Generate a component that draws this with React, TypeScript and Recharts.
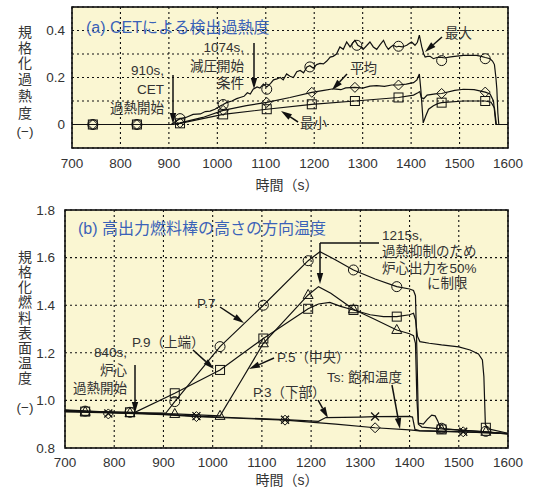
import React from 'react';
import { ComposedChart, Line, Scatter, XAxis, YAxis, CartesianGrid } from 'recharts';

// shared time axis (s)
const timeTicks = [700, 800, 900, 1000, 1100, 1200, 1300, 1400, 1500, 1600];
const topTicks = [-0.1, 0, 0.1, 0.2, 0.3, 0.4, 0.5];
const topLabels = [0, 0.2, 0.4];
const bottomTicks = [0.8, 1.0, 1.2, 1.4, 1.6, 1.8];

// (a) CET superheat, [time, value]
const cetMax: [number, number][] = [
  [700, 0], [905, 0], [915, 0.015], [923, 0.025], [935, 0.03], [950, 0.043], [965, 0.045], [975, 0.055],
  [985, 0.057], [995, 0.065], [1006, 0.079], [1012, 0.085], [1019, 0.093], [1030, 0.1], [1040, 0.11],
  [1047, 0.115], [1055, 0.12], [1062, 0.135], [1068, 0.13], [1074, 0.15], [1082, 0.16], [1088, 0.155],
  [1095, 0.172], [1102, 0.16], [1110, 0.175], [1116, 0.19], [1123, 0.194], [1130, 0.2], [1136, 0.19],
  [1143, 0.215], [1150, 0.205], [1157, 0.2], [1164, 0.225], [1171, 0.23], [1178, 0.22], [1185, 0.245],
  [1191, 0.25], [1198, 0.24], [1205, 0.255], [1212, 0.26], [1219, 0.258], [1226, 0.27], [1233, 0.287],
  [1239, 0.29], [1246, 0.3], [1253, 0.33], [1260, 0.32], [1267, 0.351], [1274, 0.33], [1279, 0.345],
  [1284, 0.358], [1290, 0.337], [1296, 0.33], [1301, 0.32], [1308, 0.335], [1315, 0.351], [1322, 0.33],
  [1329, 0.32], [1336, 0.34], [1343, 0.358], [1348, 0.335], [1353, 0.32], [1358, 0.33], [1363, 0.337],
  [1370, 0.33], [1374, 0.333], [1382, 0.33], [1391, 0.337], [1396, 0.345], [1401, 0.351], [1408, 0.337],
  [1413, 0.35], [1417, 0.38], [1420, 0.35], [1422, 0.33], [1426, 0.3], [1429, 0.287], [1434, 0.29],
  [1439, 0.29], [1446, 0.28], [1453, 0.285], [1460, 0.287], [1470, 0.283], [1478, 0.287], [1490, 0.29],
  [1508, 0.294], [1520, 0.294], [1535, 0.294], [1545, 0.29], [1553, 0.285], [1563, 0.28], [1568, 0.27],
  [1572, 0.255], [1575, 0.2], [1577, 0.15], [1579, 0.05], [1581, 0], [1600, 0],
];
const cetMean: [number, number][] = [
  [700, 0], [905, 0], [923, 0.007], [970, 0.03], [1012, 0.06], [1060, 0.08], [1102, 0.094], [1150, 0.115],
  [1195, 0.137], [1220, 0.145], [1240, 0.152], [1255, 0.148], [1265, 0.156], [1284, 0.158], [1300, 0.155],
  [1315, 0.163], [1329, 0.165], [1345, 0.162], [1360, 0.168], [1374, 0.168], [1390, 0.172], [1405, 0.178],
  [1412, 0.19], [1417, 0.215], [1420, 0.15], [1425, 0.007], [1430, 0.035], [1436, 0.065], [1446, 0.08],
  [1456, 0.09], [1463, 0.093], [1508, 0.1], [1553, 0.1], [1565, 0.095], [1572, 0.07], [1576, 0], [1600, 0],
];
const cetMin: [number, number][] = [
  [700, 0], [905, 0], [923, 0.005], [1012, 0.043], [1102, 0.065], [1195, 0.086], [1284, 0.1], [1374, 0.115],
  [1405, 0.125], [1414, 0.135], [1418, 0.14], [1421, 0.115], [1426, 0.11], [1433, 0.125], [1450, 0.13],
  [1463, 0.132], [1490, 0.145], [1508, 0.15], [1530, 0.148], [1553, 0.138], [1563, 0.13], [1570, 0.1],
  [1575, 0], [1600, 0],
];
const cetCircles: [number, number][] = [
  [743, 0], [834, 0], [923, 0.025], [1012, 0.085], [1102, 0.15], [1191, 0.245], [1288, 0.337], [1374, 0.333],
  [1463, 0.272], [1553, 0.28],
];
const cetDiamonds: [number, number][] = [
  [743, 0], [834, 0], [923, 0.007], [1012, 0.06], [1102, 0.094], [1195, 0.137], [1284, 0.158], [1374, 0.168],
  [1463, 0.132], [1553, 0.138],
];
const cetSquares: [number, number][] = [
  [743, 0], [834, 0], [923, 0.005], [1012, 0.043], [1102, 0.065], [1195, 0.086], [1284, 0.1], [1374, 0.115],
  [1463, 0.093], [1553, 0.1],
];

// (b) normalized clad surface temperature, [time, value]
const p7: [number, number][] = [
  [700, 0.955], [800, 0.95], [905, 0.947], [923, 0.995], [1015, 1.226], [1103, 1.4], [1194, 1.587],
  [1218, 1.625], [1250, 1.59], [1286, 1.548], [1330, 1.51], [1374, 1.478], [1400, 1.468], [1408, 1.462],
  [1412, 1.44], [1415, 1.2], [1418, 0.905], [1428, 0.9], [1436, 0.92], [1445, 0.938], [1452, 0.935],
  [1457, 0.915], [1462, 0.888], [1470, 0.88], [1555, 0.868], [1600, 0.86],
];
const p9: [number, number][] = [
  [700, 0.955], [760, 0.953], [842, 0.95], [923, 1.03], [1015, 1.128], [1103, 1.26], [1194, 1.385],
  [1215, 1.405], [1238, 1.412], [1260, 1.395], [1286, 1.38], [1320, 1.36], [1347, 1.352], [1374, 1.352],
  [1400, 1.36], [1408, 1.366], [1412, 1.34], [1416, 1.27], [1421, 1.247], [1440, 1.24], [1465, 1.233],
  [1500, 1.225], [1523, 1.212], [1540, 1.195], [1548, 1.17], [1551, 1.1], [1554, 0.9], [1560, 0.88],
  [1600, 0.862],
];
const p5: [number, number][] = [
  [700, 0.952], [800, 0.947], [923, 0.943], [1015, 0.935], [1060, 1.09], [1103, 1.24], [1194, 1.443],
  [1215, 1.478], [1240, 1.45], [1286, 1.383], [1330, 1.34], [1374, 1.296], [1400, 1.28], [1408, 1.272],
  [1412, 1.24], [1415, 1.0], [1418, 0.9], [1425, 0.888], [1465, 0.88], [1555, 0.868], [1600, 0.858],
];
const p3: [number, number][] = [
  [700, 0.96], [800, 0.95], [900, 0.942], [967, 0.934], [1050, 0.927], [1147, 0.919], [1215, 0.912],
  [1222, 0.92], [1230, 0.928], [1300, 0.93], [1330, 0.932], [1400, 0.933], [1406, 0.93], [1411, 0.878],
  [1420, 0.873], [1509, 0.868], [1600, 0.861],
];
const ts: [number, number][] = [
  [700, 0.958], [800, 0.948], [900, 0.94], [967, 0.932], [1050, 0.925], [1147, 0.917], [1250, 0.9],
  [1330, 0.885], [1400, 0.876], [1420, 0.872], [1509, 0.868], [1600, 0.86],
];
const p7Marks: [number, number][] = [
  [741, 0.955], [832, 0.95], [923, 0.995], [1015, 1.226], [1103, 1.4], [1194, 1.587], [1286, 1.548],
  [1374, 1.478], [1465, 0.883], [1555, 0.87],
];
const p9Marks: [number, number][] = [
  [741, 0.953], [832, 0.95], [923, 1.03], [1015, 1.128], [1103, 1.26], [1194, 1.385], [1286, 1.38],
  [1374, 1.352], [1465, 0.878], [1555, 0.885],
];
const p5Marks: [number, number][] = [
  [741, 0.952], [832, 0.947], [923, 0.943], [1015, 0.935], [1103, 1.24], [1194, 1.443], [1286, 1.383],
  [1374, 1.296], [1465, 0.878], [1555, 0.868],
];
const p3Marks: [number, number][] = [[788, 0.945], [967, 0.934], [1147, 0.919], [1330, 0.932], [1509, 0.868]];
const tsMarks: [number, number][] = [[788, 0.943], [967, 0.932], [1147, 0.917], [1330, 0.885], [1509, 0.868]];

const pts = (arr: [number, number][]) => arr.map(([t, v]) => ({ t, v }));

const FONT = '"Liberation Sans", "Noto Sans CJK JP", sans-serif';
const INK = '#111';
const TXT = '#333';
const BLUE = '#3a62b8';
const BG = '#faf6d2';

const Mark = ({ cx, cy, kind }: { cx?: number; cy?: number; kind: string }) => {
  if (cx == null || cy == null) return null;
  const p = { fill: 'none', stroke: INK, strokeWidth: 1 };
  if (kind === 'circle') return <circle cx={cx} cy={cy} r={5} {...p} />;
  if (kind === 'square') return <rect x={cx - 4.5} y={cy - 4.5} width={9} height={9} {...p} />;
  if (kind === 'diamond')
    return <polygon points={`${cx},${cy - 5} ${cx + 5},${cy} ${cx},${cy + 5} ${cx - 5},${cy}`} {...p} />;
  if (kind === 'triangle')
    return <polygon points={`${cx},${cy - 5.5} ${cx + 5},${cy + 3.5} ${cx - 5},${cy + 3.5}`} {...p} />;
  return <path d={`M${cx - 4},${cy - 4}L${cx + 4},${cy + 4}M${cx - 4},${cy + 4}L${cx + 4},${cy - 4}`} {...p} strokeWidth={1.3} />;
};

const marks = (arr: [number, number][], kind: string, key: string) => (
  <Scatter
    key={key}
    data={pts(arr)}
    dataKey="v"
    isAnimationActive={false}
    shape={(s: any) => <Mark cx={s.cx} cy={s.cy} kind={kind} />}
  />
);

const line = (arr: [number, number][], key: string) => (
  <Line
    key={key}
    data={pts(arr)}
    dataKey="v"
    type="linear"
    dot={false}
    stroke={INK}
    strokeWidth={1.2}
    isAnimationActive={false}
  />
);

const tickStyle = { fill: TXT, fontSize: 13.5, fontFamily: FONT };

const Arrow = ({ x1, y1, x2, y2 }: { x1: number; y1: number; x2: number; y2: number }) => {
  const a = Math.atan2(y2 - y1, x2 - x1);
  const L = 11;
  const W = 3.2;
  const bx = x2 - L * Math.cos(a);
  const by = y2 - L * Math.sin(a);
  const nx = -Math.sin(a) * W;
  const ny = Math.cos(a) * W;
  return (
    <g>
      <line x1={x1} y1={y1} x2={bx} y2={by} stroke={INK} strokeWidth={1.5} />
      <polygon points={`${x2},${y2} ${bx + nx},${by + ny} ${bx - nx},${by - ny}`} fill={INK} />
    </g>
  );
};

const T = ({ x, y, children, anchor = 'start', size = 13.5, color = TXT }: any) => (
  <text x={x} y={y} textAnchor={anchor} dominantBaseline="central" fontSize={size} fill={color} fontFamily={FONT}>
    {children}
  </text>
);

const topYLabel = ['規', '格', '化', '過', '熱', '度'];
const topYPos = [32, 47.5, 63, 79, 96, 113];
const botYLabel = ['規', '格', '化', '燃', '料', '表', '面', '温', '度'];
const botYPos = [257, 272, 287, 302, 318, 333, 348, 363, 378];

const Overlay = () => (
  <svg width={533} height={496} style={{ position: 'absolute', left: 0, top: 0, pointerEvents: 'none' }}>
    {/* plot frames */}
    <rect x={72} y={7} width={436} height={141} fill="none" stroke={INK} strokeWidth={1.6} />
    <rect x={65} y={210} width={443} height={238} fill="none" stroke={INK} strokeWidth={1.6} />

    {/* axis titles */}
    {topYLabel.map((c, i) => (
      <T key={'a' + i} x={25} y={topYPos[i]} anchor="middle" size={14}>{c}</T>
    ))}
    <T x={25} y={131} anchor="middle" size={13.5}>(−)</T>
    {botYLabel.map((c, i) => (
      <T key={'b' + i} x={25} y={botYPos[i]} anchor="middle" size={14}>{c}</T>
    ))}
    <T x={25} y={407} anchor="middle" size={13.5}>(−)</T>
    <T x={287} y={185} anchor="middle" size={14}>時間（s）</T>
    <T x={287} y={480} anchor="middle" size={14}>時間（s）</T>

    {/* (a) annotations */}
    <T x={86} y={27} size={16} color={BLUE}>(a) CETによる検出過熱度</T>
    <T x={244} y={47} anchor="end">1074s,</T>
    <T x={244} y={66} anchor="end">減圧開始</T>
    <T x={244} y={83} anchor="end">条件</T>
    <Arrow x1={254} y1={43} x2={254} y2={89} />
    <T x={164} y={70} anchor="end">910s,</T>
    <T x={164} y={89} anchor="end">CET</T>
    <T x={164} y={108} anchor="end">過熱開始</T>
    <Arrow x1={173} y1={75} x2={173} y2={124} />
    <T x={445} y={33}>最大</T>
    <Arrow x1={442} y1={37} x2={425} y2={52} />
    <T x={350} y={68}>平均</T>
    <Arrow x1={347} y1={74} x2={332} y2={90} />
    <T x={300} y={123}>最小</T>
    <Arrow x1={298} y1={122} x2={281} y2={111} />

    {/* (b) annotations */}
    <T x={78} y={228} size={16} color={BLUE}>(b) 高出力燃料棒の高さの方向温度</T>
    <T x={382} y={235}>1215s,</T>
    <T x={382} y={251}>過熱抑制のため</T>
    <T x={382} y={268}>炉心出力を50%</T>
    <T x={427} y={283}>に制限</T>
    <line x1={320} y1={243} x2={379} y2={243} stroke={INK} strokeWidth={1.3} />
    <Arrow x1={320} y1={243} x2={320} y2={284} />
    <T x={197} y={303}>P.7</T>
    <Arrow x1={220} y1={307} x2={244} y2={323} />
    <T x={132} y={342}>P.9（上端）</T>
    <Arrow x1={193} y1={350} x2={214} y2={369} />
    <T x={127} y={352} anchor="end">840s,</T>
    <T x={127} y={370} anchor="end">炉心</T>
    <T x={127} y={388} anchor="end">過熱開始</T>
    <Arrow x1={135} y1={365} x2={135} y2={413} />
    <T x={277} y={357}>P.5（中央）</T>
    <Arrow x1={274} y1={358} x2={249} y2={369} />
    <T x={253} y={392}>P.3（下部）</T>
    <Arrow x1={318} y1={400} x2={328} y2={418} />
    <T x={327} y={377}>Ts: 飽和温度</T>
    <Arrow x1={392} y1={385} x2={400} y2={429} />
  </svg>
);

export default function App() {
  return (
    <div style={{ position: 'absolute', left: 0, top: 0, width: 533, height: 496, background: '#fff', fontFamily: FONT }}>
      <div style={{ position: 'absolute', left: 0, top: 0 }}>
        <ComposedChart width={533} height={200} margin={{ top: 7, right: 25, bottom: 22, left: 0 }}>
          <CartesianGrid fill={BG} stroke={INK} strokeDasharray="2 3" strokeWidth={1.1} />
          <XAxis
            dataKey="t"
            type="number"
            domain={[700, 1600]}
            ticks={timeTicks}
            interval={0}
            height={30}
            tickLine={false}
            axisLine={false}
            tickMargin={4.5}
            tick={tickStyle}
          />
          <YAxis
            type="number"
            domain={[-0.1, 0.5]}
            ticks={topTicks}
            interval={0}
            width={72}
            tickLine={false}
            axisLine={false}
            tickMargin={1}
            tick={tickStyle}
            tickFormatter={(v: number) => (topLabels.includes(v) ? String(v) : '')}
          />
          {line(cetMax, 'max')}
          {line(cetMean, 'mean')}
          {line(cetMin, 'min')}
          {marks(cetCircles, 'circle', 'mc')}
          {marks(cetDiamonds, 'diamond', 'md')}
          {marks(cetSquares, 'square', 'ms')}
        </ComposedChart>
      </div>
      <div style={{ position: 'absolute', left: 0, top: 200 }}>
        <ComposedChart width={533} height={296} margin={{ top: 10, right: 25, bottom: 18, left: 0 }}>
          <CartesianGrid fill={BG} stroke={INK} strokeDasharray="2 3" strokeWidth={1.1} />
          <XAxis
            dataKey="t"
            type="number"
            domain={[700, 1600]}
            ticks={timeTicks}
            interval={0}
            height={30}
            tickLine={false}
            axisLine={false}
            tickMargin={3.5}
            tick={tickStyle}
          />
          <YAxis
            type="number"
            domain={[0.8, 1.8]}
            ticks={bottomTicks}
            interval={0}
            width={65}
            tickLine={false}
            axisLine={false}
            tickMargin={4}
            tick={tickStyle}
            tickFormatter={(v: number) => v.toFixed(1)}
          />
          {line(ts, 'ts')}
          {line(p3, 'p3')}
          {line(p5, 'p5')}
          {line(p9, 'p9')}
          {line(p7, 'p7')}
          {marks(tsMarks, 'diamond', 'mts')}
          {marks(p3Marks, 'x', 'mp3')}
          {marks(p5Marks, 'triangle', 'mp5')}
          {marks(p9Marks, 'square', 'mp9')}
          {marks(p7Marks, 'circle', 'mp7')}
        </ComposedChart>
      </div>
      <Overlay />
    </div>
  );
}
